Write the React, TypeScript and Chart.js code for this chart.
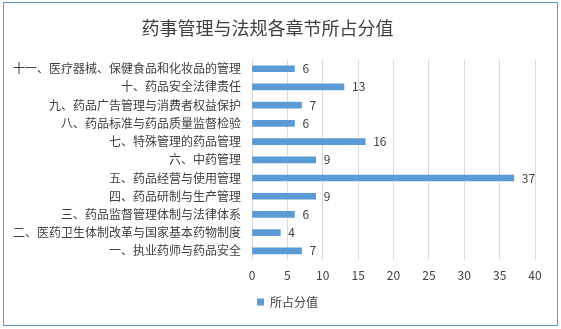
import React, { useEffect, useRef } from "react";
import { Chart, registerables } from "chart.js";

Chart.register(...registerables);

const title = "药事管理与法规各章节所占分值";
const seriesName = "所占分值";
const categories = [
  "一、执业药师与药品安全",
  "二、医药卫生体制改革与国家基本药物制度",
  "三、药品监督管理体制与法律体系",
  "四、药品研制与生产管理",
  "五、药品经营与使用管理",
  "六、中药管理",
  "七、特殊管理的药品管理",
  "八、药品标准与药品质量监督检验",
  "九、药品广告管理与消费者权益保护",
  "十、药品安全法律责任",
  "十一、医疗器械、保健食品和化妆品的管理",
];
const values = [7, 4, 6, 9, 37, 9, 16, 6, 7, 13, 6];

const FONT = "'Noto Sans CJK SC', 'Noto Sans', sans-serif";
const TEXT = "#404040";
const BAR = "#5b9bd5";

const framePlugin = {
  id: "frame",
  afterDraw(chart: any) {
    const ctx = chart.ctx;
    ctx.save();
    ctx.strokeStyle = "#5b9bd5";
    ctx.lineWidth = 1;
    ctx.strokeRect(3.5, 2.5, 554, 323);
    ctx.restore();
  },
};

const legendShiftPlugin = {
  id: "legendShift",
  afterLayout(chart: any) {
    const lg = chart.legend;
    if (lg) {
      lg.left += 20;
      lg.right += 20;
    }
  },
};

const labelPlugin = {
  id: "valueLabels",
  afterDatasetsDraw(chart: any) {
    const ctx = chart.ctx;
    const meta = chart.getDatasetMeta(0);
    ctx.save();
    ctx.font = `12px ${FONT}`;
    ctx.fillStyle = TEXT;
    ctx.textAlign = "left";
    ctx.textBaseline = "middle";
    meta.data.forEach((bar: any, i: number) => {
      ctx.fillText(String(chart.data.datasets[0].data[i]), bar.x + 8, bar.y);
    });
    ctx.restore();
  },
};

export default function App() {
  const ref = useRef<HTMLCanvasElement>(null);
  useEffect(() => {
    document.body.style.margin = "0";
    const chart = new Chart(ref.current!, {
      type: "bar",
      data: {
        labels: categories,
        datasets: [
          {
            label: seriesName,
            data: values,
            backgroundColor: BAR,
            borderWidth: 0,
            barThickness: 6,
          },
        ],
      },
      options: {
        indexAxis: "y",
        responsive: false,
        animation: false,
        layout: { padding: { left: 0, right: 26, top: 0, bottom: 11 } },
        scales: {
          x: {
            min: 0,
            max: 40,
            ticks: {
              stepSize: 5,
              font: { family: FONT, size: 12 },
              color: TEXT,
              padding: 8,
            },
            grid: { color: "#d9d9d9", drawTicks: false },
            border: { display: false },
            afterFit: (s: any) => {
              s.height = 26;
            },
          },
          y: {
            reverse: true,
            ticks: {
              autoSkip: false,
              font: { family: FONT, size: 12 },
              color: TEXT,
              padding: 11,
            },
            grid: { display: false, drawTicks: false },
            border: { display: false },
            afterFit: (s: any) => {
              s.width = 252;
            },
          },
        },
        plugins: {
          title: {
            display: true,
            text: title,
            font: { family: FONT, size: 18, weight: "normal" },
            color: TEXT,
            padding: { top: 17, bottom: 21 },
          },
          legend: {
            position: "bottom",
            labels: {
              boxWidth: 7,
              boxHeight: 7,
              font: { family: FONT, size: 12 },
              color: TEXT,
              padding: 10,
            },
          },
          tooltip: { enabled: false },
        },
      },
      plugins: [labelPlugin, framePlugin, legendShiftPlugin],
    } as any);
    return () => chart.destroy();
  }, []);
  return (
    <div style={{ width: 561, height: 329 }}>
      <canvas ref={ref} width={561} height={329} style={{ display: "block" }} />
    </div>
  );
}
